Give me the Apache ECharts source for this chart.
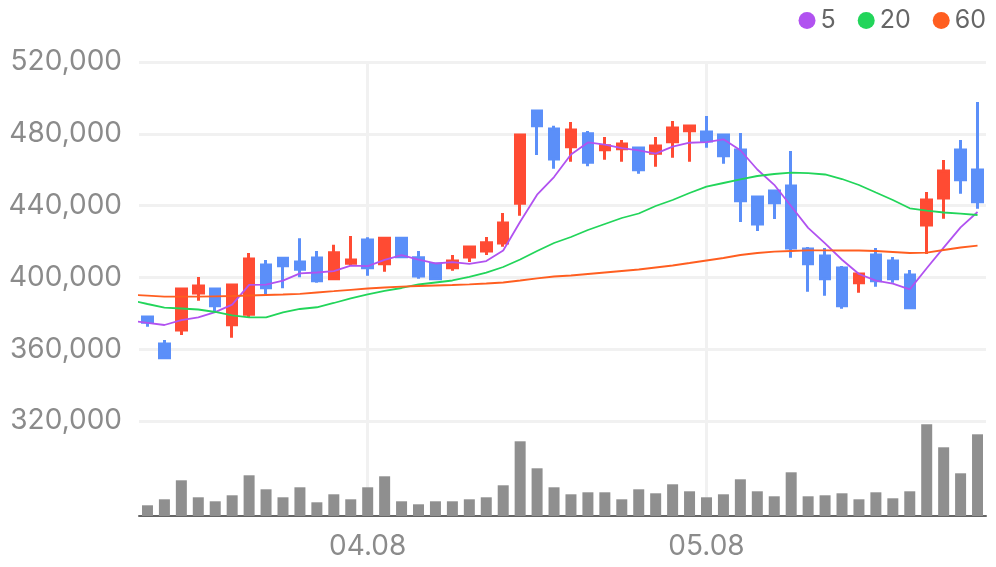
<!DOCTYPE html>
<html>
<head>
<meta charset="utf-8">
<script src="https://cdn.jsdelivr.net/npm/echarts@6/dist/echarts.min.js"></script>
<style>
  html, body { margin: 0; padding: 0; background: #fff; }
  #chart { width: 996px; height: 567px; }
</style>
</head>
<body>
<div id="chart"></div>
<script>
// first entry is the day before the visible window (only its MA values show, clipped at the left edge)
const dates = ['03.19',
  '03.20','03.21','03.22','03.25','03.26','03.27','03.28','03.29','04.01','04.02',
  '04.03','04.04','04.05','04.08','04.09','04.10','04.11','04.12','04.15','04.16',
  '04.17','04.18','04.19','04.22','04.23','04.24','04.25','04.26','04.29','04.30',
  '05.02','05.03','05.07','05.08','05.09','05.10','05.13','05.14','05.16','05.17',
  '05.20','05.21','05.22','05.23','05.24','05.27','05.28','05.29','05.30','05.31']
const labelDates = ['04.08', '05.08']

const opens = ['-',
  377940, 362900, 370700, 391310, 393540, 373650, 379440, 406910, 410640, 408580,
  410810, 399280, 407860, 420840, 407630, 421780, 410980, 407460, 405400, 411360,
  414710, 419170, 441280, 492700, 482670, 472810, 480060, 471140, 471700, 472090,
  469140, 475600, 481730, 481000, 479330, 470970, 444790, 448130, 450920, 415820,
  411920, 405240, 397050, 412480, 409140, 401340, 429190, 444230, 470970, 459830]
const closes = ['-',
  374990, 355270, 393540, 395210, 384240, 395770, 410250, 394260, 406520, 404510,
  398160, 413760, 409700, 405400, 421780, 411530, 400780, 399280, 409140, 416930,
  419330, 430310, 479330, 484510, 465960, 482120, 464120, 473370, 474320, 460000,
  473200, 483230, 484350, 475990, 467800, 442730, 429750, 441620, 416380, 407630,
  399280, 384240, 401890, 398160, 399280, 383120, 443120, 459280, 454430, 442170]
const lows = ['-',
  372540, 355270, 367910, 387020, 380340, 366410, 377550, 390750, 393930, 400060,
  397050, 399280, 406520, 400950, 403170, 410980, 399280, 399280, 403730, 408580,
  412480, 417100, 434370, 468190, 460560, 464460, 461900, 465570, 464460, 457770,
  461680, 466690, 464460, 472260, 463340, 430860, 425850, 432540, 410980, 392030,
  389810, 382560, 391480, 394820, 397050, 383120, 413040, 432700, 446630, 438270]
const highs = ['-',
  377940, 365130, 393540, 400230, 393540, 396320, 413590, 409700, 410640, 421780,
  414710, 418220, 423070, 422340, 422670, 421780, 414710, 407460, 412480, 416930,
  422510, 435880, 479330, 493430, 484510, 486570, 481560, 478220, 476550, 472090,
  478220, 487130, 484350, 489920, 479330, 480450, 445350, 448130, 470420, 416930,
  416380, 406350, 401890, 416380, 411360, 404130, 447580, 465400, 476550, 497720]
const volumes = ['-',
  107000, 167000, 357000, 187000, 147000, 207000, 407000, 267000, 187000, 287000,
  137000, 217000, 167000, 287000, 397000, 147000, 117000, 147000, 147000, 167000,
  187000, 307000, 747000, 477000, 287000, 217000, 237000, 237000, 167000, 267000,
  227000, 317000, 247000, 187000, 217000, 367000, 247000, 197000, 437000, 197000,
  207000, 227000, 167000, 237000, 177000, 247000, 917000, 687000, 427000, 817000]
const ma5 = [375900,
  374700, 373480, 376230, 377770, 380650, 384810, 395800, 395950, 398210, 402260,
  402740, 403440, 406530, 406310, 409760, 412430, 409840, 407750, 408500, 407530,
  409090, 415000, 431010, 446080, 455890, 468450, 475210, 474020, 471980, 470790,
  469000, 472820, 475020, 475350, 476910, 470820, 460120, 451580, 439660, 427620,
  418930, 409830, 401880, 398240, 396570, 393340, 405110, 416590, 427850, 436420]
const ma20 = [387360,
  385180, 383120, 382670, 382120, 380730, 378890, 377770, 377770, 380500, 382400,
  383360, 385740, 388250, 390480, 392430, 394100, 396050, 397160, 398280, 400230,
  402620, 405800, 409970, 414710, 419170, 422510, 426410, 429750, 433090, 435600,
  439780, 443120, 447020, 450530, 452590, 454650, 456490, 457600, 458330, 458050,
  457330, 454810, 451470, 447290, 443120, 438500, 437170, 436160, 435490, 434770]
const ma60 = [390310,
  389810, 389250, 389250, 389250, 389480, 389640, 389920, 390200, 390470, 390860,
  391590, 392310, 393090, 393820, 394370, 394820, 395210, 395490, 395770, 396160,
  396600, 397160, 398280, 399500, 400500, 401060, 401890, 402730, 403570, 404400,
  405510, 406630, 408020, 409420, 410810, 412480, 413590, 414320, 414710, 415100,
  415100, 414990, 414990, 414710, 414150, 413590, 413760, 415260, 416660, 417660]

const upColor = '#ff4b33'
const downColor = '#5b8ff9'
const gridColor = '#f1f1f1'
const font = 'Inter'

const candles = dates.map((d, i) =>
  opens[i] === '-' ? '-' : [opens[i], closes[i], lows[i], highs[i]])

const showDate = (idx, val) => labelDates.includes(val)

var myChart = echarts.init(document.getElementById('chart'))
myChart.setOption({
  animation: false,
  textStyle: { fontFamily: font },
  legend: {
    data: ['5', '20', '60'],
    icon: 'circle',
    itemWidth: 17,
    itemHeight: 17,
    itemGap: 22,
    right: 5,
    top: 3,
    textStyle: { fontSize: 25, color: '#666', fontFamily: font }
  },
  grid: [
    { left: 139, right: 10, top: 62, bottom: 146 },
    { left: 139, right: 10, top: 416, bottom: 51 }
  ],
  xAxis: [
    {
      type: 'category',
      gridIndex: 0,
      data: dates,
      axisLine: { show: false },
      axisTick: { show: false },
      axisLabel: { show: false },
      splitLine: {
        show: true,
        interval: showDate,
        alignWithLabel: true,
        lineStyle: { color: gridColor, width: 3 }
      }
    },
    {
      type: 'category',
      gridIndex: 1,
      data: dates,
      axisLine: { lineStyle: { color: '#666', width: 2 } },
      axisTick: {
        interval: showDate,
        alignWithLabel: true,
        length: 8,
        lineStyle: { color: '#666', width: 2 }
      },
      axisLabel: {
        interval: showDate,
        margin: 17,
        fontSize: 28,
        color: '#8b8b8b',
        fontFamily: font
      },
      splitLine: {
        show: true,
        interval: showDate,
        alignWithLabel: true,
        lineStyle: { color: gridColor, width: 3 }
      }
    }
  ],
  yAxis: [
    {
      type: 'value',
      gridIndex: 0,
      min: 320000,
      max: 520000,
      interval: 40000,
      axisLine: { show: false },
      axisTick: { show: false },
      axisLabel: {
        margin: 17,
        fontSize: 28,
        color: '#8b8b8b',
        fontFamily: font,
        formatter: (v) => v.toLocaleString('en-US')
      },
      splitLine: { lineStyle: { color: gridColor, width: 3 } }
    },
    {
      type: 'value',
      gridIndex: 1,
      min: 0,
      max: 1000000,
      show: false,
      splitLine: { show: false }
    }
  ],
  dataZoom: [
    {
      type: 'inside',
      xAxisIndex: [0, 1],
      startValue: 1,
      endValue: dates.length - 1,
      filterMode: 'none',
      zoomOnMouseWheel: false,
      moveOnMouseMove: false,
      moveOnMouseWheel: false
    }
  ],
  series: [
    {
      name: 'K',
      type: 'candlestick',
      xAxisIndex: 0,
      yAxisIndex: 0,
      data: candles,
      barWidth: 10,
      z: 3,
      itemStyle: {
        color: upColor,
        color0: downColor,
        borderColor: upColor,
        borderColor0: downColor,
        borderWidth: 3
      }
    },
    {
      name: '5', type: 'line', data: ma5, showSymbol: false, z: 4,
      itemStyle: { color: '#b152f0' }, lineStyle: { width: 1.8, color: '#b152f0' }
    },
    {
      name: '20', type: 'line', data: ma20, showSymbol: false, z: 4,
      itemStyle: { color: '#22d55a' }, lineStyle: { width: 1.8, color: '#22d55a' }
    },
    {
      name: '60', type: 'line', data: ma60, showSymbol: false, z: 4,
      itemStyle: { color: '#ff5e20' }, lineStyle: { width: 1.8, color: '#ff5e20' }
    },
    {
      name: 'Volume',
      type: 'bar',
      xAxisIndex: 1,
      yAxisIndex: 1,
      data: volumes,
      barWidth: 11,
      itemStyle: { color: '#8f8f8f' }
    }
  ]
})
</script>
</body>
</html>
